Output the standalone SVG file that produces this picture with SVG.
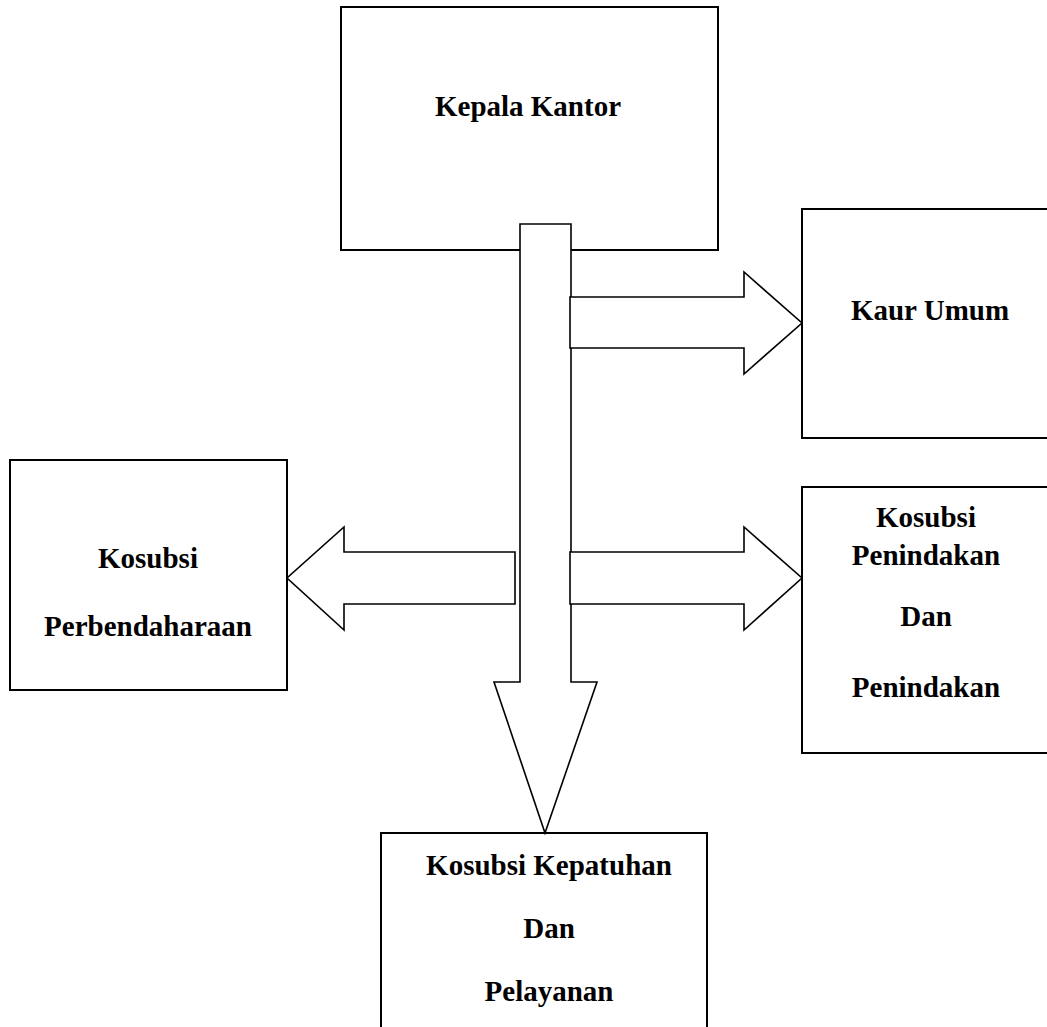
<svg xmlns="http://www.w3.org/2000/svg" width="1047" height="1027" viewBox="0 0 1047 1027">
<style>
.box{fill:#fff;stroke:#000;stroke-width:2}
.arr{fill:#fff;stroke:#000;stroke-width:1.6;stroke-linejoin:miter}
.t{font-family:"Liberation Serif","Times New Roman",serif;font-weight:bold;font-size:29px;fill:#000;text-anchor:middle}
</style>
<rect width="1047" height="1027" fill="#fff"/>
<g id="kepala-kantor">
<rect class="box" x="341" y="7" width="377" height="243"/>
<text class="t" x="528" y="116">Kepala Kantor</text>
</g>
<g id="kaur-umum">
<rect class="box" x="802" y="209" width="260" height="229"/>
<text class="t" x="930" y="320">Kaur Umum</text>
</g>
<g id="kosubsi-penindakan">
<rect class="box" x="802" y="487" width="260" height="266"/>
<text class="t" x="926" y="527">Kosubsi</text>
<text class="t" x="926" y="565">Penindakan</text>
<text class="t" x="926" y="626">Dan</text>
<text class="t" x="926" y="697">Penindakan</text>
</g>
<g id="kosubsi-perbendaharaan">
<rect class="box" x="10" y="460" width="277" height="230"/>
<text class="t" x="148" y="568">Kosubsi</text>
<text class="t" x="148" y="636">Perbendaharaan</text>
</g>
<g id="kosubsi-kepatuhan">
<rect class="box" x="381" y="833" width="326" height="220"/>
<text class="t" x="549" y="875">Kosubsi Kepatuhan</text>
<text class="t" x="549" y="938">Dan</text>
<text class="t" x="549" y="1001">Pelayanan</text>
</g>
<g id="connectors">
<polygon class="arr" points="520,224 571,224 571,682 597,682 545,833 494,682 520,682"/>
<polygon class="arr" points="570,297 744,297 744,272 802,323 744,374 744,348 570,348"/>
<polygon class="arr" points="570,552 744,552 744,527 802,578 744,630 744,604 570,604"/>
<polygon class="arr" points="515,552 344,552 344,527 287,578 344,630 344,604 515,604"/>
</g>
</svg>
